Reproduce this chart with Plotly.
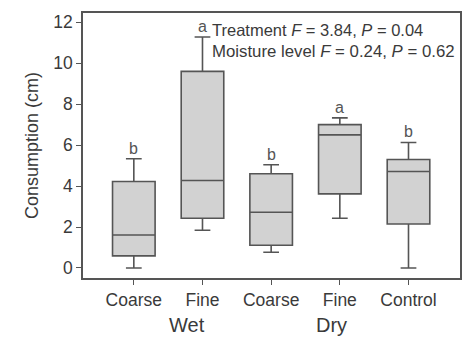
import plotly.graph_objects as go

categories = ["Coarse", "Fine", "Coarse", "Fine", "Control"]
groups = ["Wet", "Dry"]
group_centers = [0.78, 2.88]
lower = [0.0, 1.84, 0.77, 2.43, 0.0]
q1 = [0.59, 2.43, 1.11, 3.62, 2.15]
median = [1.61, 4.27, 2.72, 6.5, 4.71]
q3 = [4.22, 9.6, 4.6, 7.0, 5.3]
upper = [5.33, 11.28, 5.04, 7.33, 6.13]
letters = ["b", "a", "b", "a", "b"]
ytick_vals = [0, 2, 4, 6, 8, 10, 12]

pos = list(range(len(categories)))
FONT = "Arial, Liberation Sans, sans-serif"
TXT = "#3a3a3a"
LINE = "#555555"

fig = go.Figure()
fig.add_trace(go.Box(
    x=pos, q1=q1, median=median, q3=q3, lowerfence=lower, upperfence=upper,
    width=0.62, whiskerwidth=0.37, fillcolor="#d2d2d2",
    line=dict(color=LINE, width=1.6), showlegend=False, hoverinfo="skip",
))

for i, (l, u) in enumerate(zip(letters, upper)):
    fig.add_annotation(x=pos[i], y=u, text=l, showarrow=False, yanchor="bottom",
                       yshift=0, font=dict(family=FONT, size=16, color="#555"))

fig.add_annotation(xref="paper", yref="paper", x=0.338, y=0.935, xanchor="left", yanchor="middle",
                   text="Treatment <i>F</i> = 3.84, <i>P</i> = 0.04", showarrow=False,
                   font=dict(family=FONT, size=16.5, color=TXT))
fig.add_annotation(xref="paper", yref="paper", x=0.338, y=0.853, xanchor="left", yanchor="middle",
                   text="Moisture level <i>F</i> = 0.24, <i>P</i> = 0.62", showarrow=False,
                   font=dict(family=FONT, size=16.8, color=TXT))

for g, xc in zip(groups, group_centers):
    fig.add_annotation(x=xc, xref="x", y=-0.177, yref="paper", text=g, showarrow=False,
                       yanchor="middle", font=dict(family=FONT, size=20, color=TXT))

fig.update_layout(
    width=471, height=339, margin=dict(l=83, r=9, t=13, b=61),
    paper_bgcolor="white", plot_bgcolor="white",
    font=dict(family=FONT, color=TXT),
    xaxis=dict(range=[-0.74, 4.75], tickmode="array", tickvals=pos, ticktext=categories,
               showgrid=False, zeroline=False, showline=True, linecolor=LINE, linewidth=1.5,
               mirror=True, ticks="outside", ticklen=5, tickcolor=LINE,
               tickfont=dict(size=17.5, color=TXT)),
    yaxis=dict(range=[-0.49, 12.45], tickmode="array", tickvals=ytick_vals,
               showgrid=False, zeroline=False, showline=True, linecolor=LINE, linewidth=1.5,
               mirror=True, ticks="outside", ticklen=5, tickcolor=LINE,
               tickfont=dict(size=17.5, color=TXT),
               title=dict(text="Consumption (cm)", font=dict(size=18, color=TXT), standoff=10)),
)
fig.write_html("out.html", config={"displayModeBar": False},
               post_script="document.body.style.margin='0px';document.body.style.padding='0px';")
